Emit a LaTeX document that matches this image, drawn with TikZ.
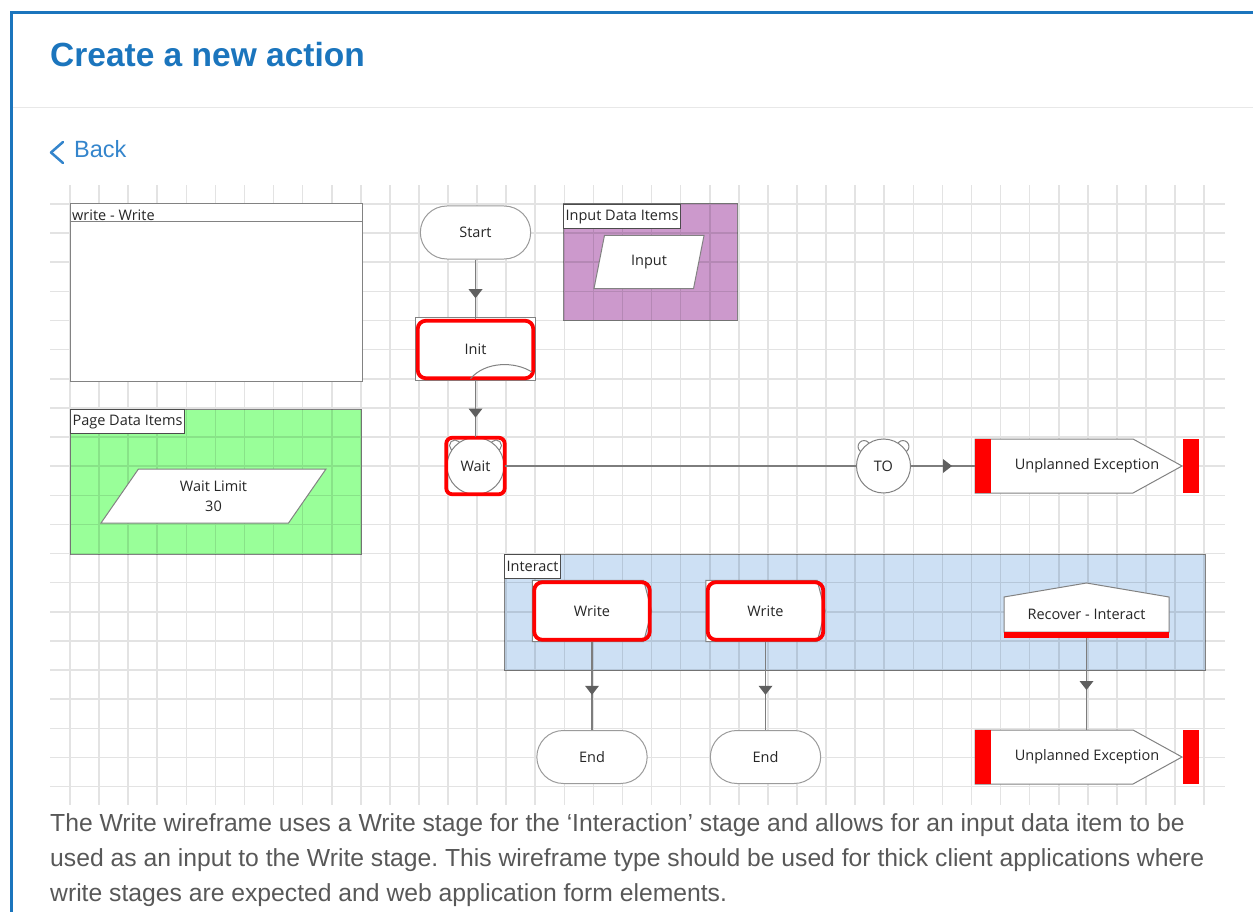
\documentclass[tikz,border=0pt]{standalone}
\usepackage{fontspec}
\setmainfont{Liberation Sans}
\newfontfamily\stagefont{Open Sans}
\usetikzlibrary{shapes.misc,shapes.geometric,decorations.markings,calc}
\frenchspacing

\pgfdeclarelayer{bg}
\pgfsetlayers{bg,main}

\definecolor{headblue}{RGB}{27,117,189}
\definecolor{linkblue}{RGB}{52,133,204}
\definecolor{framegray}{RGB}{130,130,130}
\definecolor{bodygray}{RGB}{88,88,88}
\definecolor{pagegreen}{RGB}{153,255,153}
\definecolor{inputpurple}{RGB}{204,153,204}
\definecolor{interactblue}{RGB}{205,224,244}
\definecolor{linkgray}{RGB}{125,125,125}
\definecolor{tipgray}{RGB}{95,95,95}

\tikzset{
  stagetext/.style={font=\stagefont\fontsize{14.5}{20}\selectfont, text=black!85},
  region/.style={draw=framegray, line width=1pt, anchor=north west, inner sep=0pt, outer sep=0pt},
  regionlbl/.style={draw=black!70, fill=white, line width=1.2pt, anchor=north west, inner xsep=2pt, inner ysep=0pt, minimum height=24pt, stagetext},
  terminal/.style={rounded rectangle, draw=framegray!80, fill=white, line width=1pt, minimum width=117pt, minimum height=53pt, stagetext},
  redstage/.style={rectangle, rounded corners=8pt, draw=red, line width=3.8pt, minimum width=115.5pt, minimum height=57.5pt, stagetext},
  clock/.style={circle, draw=framegray, fill=white, line width=1pt, minimum size=57pt, inner sep=0pt, stagetext},
  ear/.style={draw=framegray, fill=white, line width=1pt},
  dataitem/.style={trapezium, trapezium stretches body, draw=framegray, fill=white, line width=1pt, stagetext, align=center},
  excbox/.style={stagetext, minimum width=207pt, minimum height=54pt, inner sep=0pt, outer sep=0pt},
  outline/.style={draw=framegray, fill=white, line width=1pt},
  flow/.style={draw=linkgray, line width=1.3pt, postaction={decorate},
    decoration={markings, mark=at position 0.5 with {\fill[tipgray] (9pt,0pt) -- (0pt,7pt) -- (0pt,-7pt) -- cycle;}}},
  link/.style={draw=linkgray, line width=1.3pt},
  grd/.style={black, opacity=0.11, line width=1.6pt},
  desc/.style={anchor=base west, text=bodygray, font=\fontsize{24.7}{35}\selectfont, inner sep=0pt}
}

\begin{document}
\begin{tikzpicture}[x=1pt,y=-1pt]
\useasboundingbox (0,0) rectangle (1253,912);

% page frame and heading
\draw[headblue, line width=3pt] (11.5,912) -- (11.5,12.5) -- (1253,12.5);
\draw[black!9, line width=1.5pt] (13,107.5) -- (1253,107.5);
\node[anchor=base west, text=headblue, font=\fontsize{33.5}{40}\selectfont\bfseries, inner sep=0pt] (title) at (50,66.5) {Create a new action};
\draw[linkblue, line width=2.5pt, line join=round, line cap=round] (63,142) -- (51,152.5) -- (63,163);
\node[anchor=base west, text=linkblue, font=\fontsize{23.5}{28}\selectfont, inner sep=0pt] (back) at (74,158) {Back};

% coloured regions, then the grid over them
\begin{pgfonlayer}{bg}
\node[region, fill=pagegreen, minimum width=291pt, minimum height=145pt] (pagedata) at (70,409) {};
\node[region, fill=inputpurple, minimum width=174pt, minimum height=116pt] (inputdata) at (563,204) {};
\node[region, fill=interactblue, minimum width=701pt, minimum height=116pt] (interact) at (504,554) {};
\draw[grd] foreach \i in {0,...,39} {({70+\i*29.08},185) -- ({70+\i*29.08},805)}
           foreach \j in {0,...,20} {(50,{204+\j*29.13}) -- (1225,{204+\j*29.13})};
\end{pgfonlayer}

% page box
\node[region, fill=white, minimum width=292pt, minimum height=177pt] (writepage) at (70,204) {};
\draw[framegray, line width=1pt] ($(writepage.north west)+(0,18)$) -- ($(writepage.north east)+(0,18)$);
\node[anchor=base west, stagetext, inner sep=0pt] (writelbl) at ($(writepage.north west)+(2,17)$) {write - Write};

% data items
\node[regionlbl] (pagelbl) at (pagedata.north west) {Page Data Items};
\node[dataitem, trapezium left angle=45, trapezium right angle=135, minimum width=225pt, minimum height=54pt] (waitlimit) at (213.5,496) {Wait Limit\\30};
\node[regionlbl] (inputlbl) at (inputdata.north west) {Input Data Items};
\node[dataitem, trapezium left angle=63, trapezium right angle=117, minimum width=110pt, minimum height=53pt] (input) at (649,262) {Input};

% main flow
\node[terminal] (start) at (475.5,232.5) {Start};
\node[redstage] (init) at (475.5,349.5) {Init};
\begin{pgfonlayer}{bg}
\draw[outline] ($(init.north west)+(0,-1)$) rectangle ($(init.south east)+(0,0)$);
\end{pgfonlayer}
\draw[framegray, line width=1pt] ($(init.south)+(-5,-1.5)$) .. controls ($(init.south)+(10,-19)$) and ($(init.south east)+(-20,-19)$) .. ($(init.south east)+(-3,-8)$);

\node[clock] (wait) at (475.5,466) {Wait};
\draw[red, line width=3.8pt, rounded corners=6pt] ($(wait.center)+(-29.25,-28.25)$) rectangle ($(wait.center)+(29.25,28.25)$);

\node[clock, minimum size=54pt] (to) at (883.5,466) {TO};
\begin{pgfonlayer}{bg}
\draw[ear] (wait.north west) circle[radius=5.5pt];
\draw[ear] (wait.north east) circle[radius=5.5pt];
\draw[ear] (to.north west) circle[radius=6pt];
\draw[ear] (to.north east) circle[radius=6pt];
\end{pgfonlayer}

\node[excbox] (ue1) at (1078.5,466) {\hspace*{17pt}Unplanned Exception};
\begin{pgfonlayer}{bg}
\draw[outline] (ue1.south west) -- (ue1.north west) -- ($(ue1.north east)+(-49,0)$) -- (ue1.east) -- ($(ue1.south east)+(-49,0)$) -- cycle;
\end{pgfonlayer}
\fill[red] (ue1.south west) rectangle ($(ue1.north west)+(16,0)$);
\fill[red] ($(ue1.south east)+(1,0)$) rectangle ($(ue1.north east)+(17,0)$);

% interact block
\node[regionlbl] (interactlbl) at (interact.north west) {Interact};
\node[redstage] (write1) at (592,611) {Write};
\node[redstage] (write2) at (765.5,611) {Write};
\begin{pgfonlayer}{bg}
\draw[outline] (write1.north west) -- ($(write1.north east)+(-8,0)$) -- (write1.east) -- ($(write1.south east)+(-8,0)$) -- (write1.south west) -- cycle;
\draw[outline] (write2.north west) -- ($(write2.north east)+(-8,0)$) -- (write2.east) -- ($(write2.south east)+(-8,0)$) -- (write2.south west) -- cycle;
\end{pgfonlayer}

\node[stagetext, minimum width=165pt, minimum height=35pt, inner sep=0pt, outer sep=0pt] (recover) at (1086.5,614.5) {Recover - Interact};
\begin{pgfonlayer}{bg}
\draw[outline] (recover.south west) -- (recover.north west) -- ($(recover.north)+(0,-14)$) -- (recover.north east) -- (recover.south east) -- cycle;
\end{pgfonlayer}
\fill[red] (recover.south west) rectangle ($(recover.south east)+(0,6)$);

\node[terminal] (end1) at (592,757) {End};
\node[terminal] (end2) at (765.5,757) {End};

\node[excbox] (ue2) at (1078.5,757) {\hspace*{17pt}Unplanned Exception};
\begin{pgfonlayer}{bg}
\draw[outline] (ue2.south west) -- (ue2.north west) -- ($(ue2.north east)+(-49,0)$) -- (ue2.east) -- ($(ue2.south east)+(-49,0)$) -- cycle;
\end{pgfonlayer}
\fill[red] (ue2.south west) rectangle ($(ue2.north west)+(16,0)$);
\fill[red] ($(ue2.south east)+(1,0)$) rectangle ($(ue2.north east)+(17,0)$);

% connectors
\draw[flow] (start.south) -- (init.north);
\draw[flow] (init.south) -- (wait.north);
\draw[link] (wait.east) -- (to.west);
\draw[flow] (to.east) -- (ue1.west);
\draw[flow] (write1.south) -- (end1.north);
\draw[flow] (write2.south) -- (end2.north);
\draw[flow, shorten <=6pt] (recover.south) -- (recover.south |- ue2.north);

% description
\node[desc] (desc1) at (50,831) {The Write wireframe uses a Write stage for the `Interaction' stage and allows for an input data item to be};
\node[desc] (desc2) at (50,866) {used as an input to the Write stage. This wireframe type should be used for thick client applications where};
\node[desc] (desc3) at (50,901) {write stages are expected and web application form elements.};
\end{tikzpicture}
\end{document}
